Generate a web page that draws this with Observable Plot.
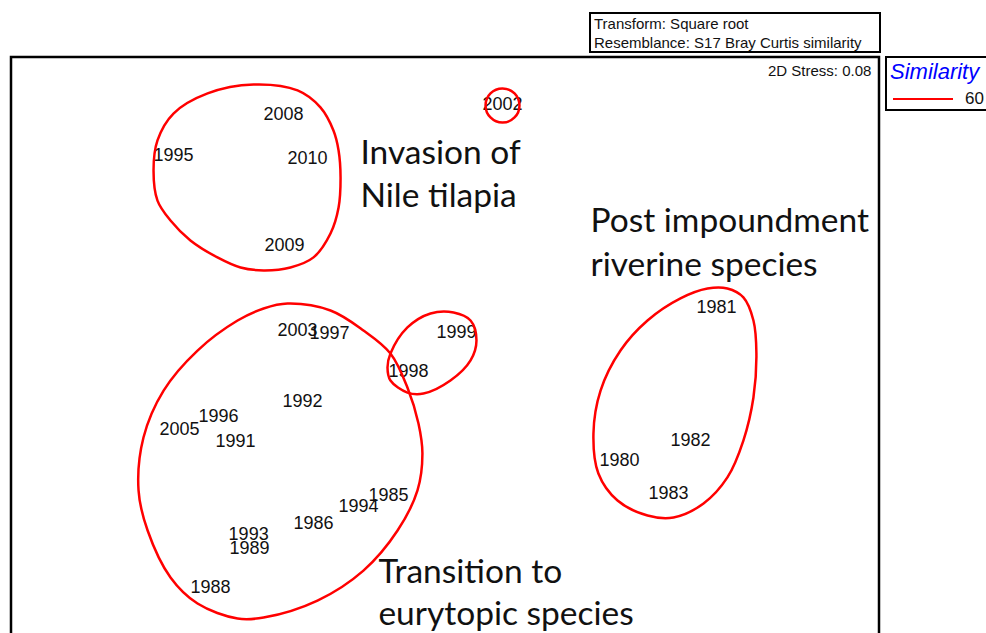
<!DOCTYPE html>
<html><head><meta charset="utf-8">
<script src="https://cdn.jsdelivr.net/npm/d3@7"></script>
<script src="https://cdn.jsdelivr.net/npm/@observablehq/plot@0.6"></script>
<style>
html,body{margin:0;padding:0;background:#fff;overflow:hidden}
#wrap{position:relative;width:986px;height:633px;overflow:hidden}
#info{position:absolute;box-sizing:border-box;left:589px;top:12px;width:292px;height:41px;border:2.5px solid #000;font:15px "Liberation Sans",Arial,sans-serif;line-height:19px;padding-left:3px;color:#111}
#legend{position:absolute;box-sizing:border-box;left:885px;top:56px;width:140px;height:55px;border:2px solid #000;font-family:"Liberation Sans",Arial,sans-serif}
#legend .title{position:absolute;left:3px;top:1px;font-size:22px;font-style:italic;color:#0000ff}
#legend .row{position:absolute;left:6px;top:31px;display:flex;align-items:center;font-size:17px;color:#111}
#legend .sw{width:60px;height:0;border-top:2.5px solid #ff0000;margin-right:12px}
</style></head>
<body>
<div id="wrap"></div>
<script>
// MDS ordination (2D) – sample years and coordinates
const years = ["2008","1995","2010","2009","2002","2003","1997","1999","1998","1992","1996","2005","1991","1985","1994","1986","1993","1989","1988","1981","1982","1980","1983"];
const mdsX = [-0.821,-1.379,-0.699,-0.816,0.289,-0.750,-0.588,0.056,-0.188,-0.725,-1.151,-1.348,-1.064,-0.289,-0.441,-0.669,-0.998,-0.993,-1.191,1.374,1.242,0.882,1.130];
const mdsY = [1.211,1.004,0.988,0.547,1.262,0.117,0.101,0.106,-0.091,-0.243,-0.319,-0.385,-0.446,-0.720,-0.775,-0.862,-0.917,-0.988,-1.186,0.233,-0.441,-0.542,-0.710];

// Similarity (60%) contours, outline points
const contourTilapia = [[-0.973,1.363],[-0.750,1.333],[-0.634,1.247],[-0.568,1.130],[-0.542,1.029],[-0.532,0.892],[-0.542,0.740],[-0.583,0.608],[-0.669,0.487],[-0.786,0.436],[-0.922,0.421],[-1.039,0.436],[-1.156,0.487],[-1.293,0.573],[-1.394,0.674],[-1.460,0.775],[-1.480,0.928],[-1.460,1.080],[-1.379,1.216],[-1.206,1.318]];
const contour2002 = [[0.289,1.343],[0.350,1.318],[0.375,1.257],[0.350,1.196],[0.289,1.170],[0.228,1.196],[0.203,1.257],[0.228,1.318]];
const contourTransition = [[-0.801,0.253],[-0.583,0.218],[-0.416,0.117],[-0.279,0.000],[-0.193,-0.172],[-0.137,-0.355],[-0.117,-0.507],[-0.142,-0.694],[-0.243,-0.897],[-0.416,-1.100],[-0.649,-1.252],[-0.922,-1.338],[-1.054,-1.343],[-1.257,-1.267],[-1.394,-1.135],[-1.510,-0.897],[-1.556,-0.694],[-1.531,-0.426],[-1.429,-0.188],[-1.257,0.015],[-1.054,0.167],[-0.922,0.228]];
const contour9899 = [[-0.279,0.000],[-0.193,0.132],[-0.076,0.203],[0.041,0.208],[0.127,0.167],[0.157,0.066],[0.127,-0.035],[0.025,-0.137],[-0.112,-0.203],[-0.193,-0.198],[-0.279,-0.137],[-0.294,-0.071]];
const contourRiverine = [[1.429,0.329],[1.510,0.284],[1.561,0.167],[1.576,0.000],[1.561,-0.223],[1.510,-0.441],[1.429,-0.628],[1.308,-0.760],[1.156,-0.831],[1.024,-0.821],[0.872,-0.745],[0.775,-0.608],[0.750,-0.405],[0.786,-0.188],[0.887,0.015],[1.024,0.167],[1.191,0.279],[1.328,0.329]];

// Annotations
const noteText = ["Invasion of","Nile tilapia","Post impoundment","riverine species","Transition to","eurytopic species"];
const noteX = [-0.431,-0.431,0.735,0.735,-0.340,-0.340];
const noteY = [1.014,0.796,0.669,0.446,-1.110,-1.323];

const stressText = ["2D Stress: 0.08"];
const infoLines = ["Transform: Square root","Resemblance: S17 Bray Curtis similarity"];
const similarityLevels = [60];

const xDomain = [-2.2, 2.2];
const yDomain = [-1.5, 1.5];

const labels = years.map((t,i)=>({t, x: mdsX[i], y: mdsY[i]}));
const contours = [["a",contourTilapia],["b",contour2002],["c",contourTransition],["d",contour9899],["e",contourRiverine]]
  .flatMap(([g,pts])=>pts.map(([x,y])=>({g,x,y})));
const notes = noteText.map((t,i)=>({t, x: noteX[i], y: noteY[i]}));
const stress = stressText.map(t=>({t, x: 2.159, y: 1.429}));

const plot = Plot.plot({
  width: 986, height: 633, margin: 0,
  x: {domain: xDomain, range: [11, 879], axis: null},
  y: {domain: yDomain, range: [649, 57], axis: null},
  style: {background: "transparent"},
  marks: [
    Plot.rect([{x1: xDomain[0], x2: xDomain[1], y1: -1.62, y2: yDomain[1]}], {x1:"x1", x2:"x2", y1:"y1", y2:"y2", fill:"none", stroke:"#000", strokeWidth:2.5}),
    Plot.text(labels, {x:"x", y:"y", text:"t", fontSize:18, fontFamily:"Liberation Sans, Arial, sans-serif", fill:"#111"}),
    Plot.text(notes, {x:"x", y:"y", text:"t", textAnchor:"start", fontSize:33.5, fontFamily:"Lato, sans-serif", fill:"#111"}),
    Plot.text(stress, {x:"x", y:"y", text:"t", textAnchor:"end", fontSize:15, fontFamily:"Liberation Sans, Arial, sans-serif", fill:"#111"}),
    Plot.line(contours, {x:"x", y:"y", z:"g", curve:"catmull-rom-closed", stroke:"#ff0000", strokeWidth:2.5})
  ]
});
const wrap = document.getElementById("wrap");
wrap.appendChild(plot);

const info = document.createElement("div");
info.id = "info";
info.innerHTML = infoLines.map(s=>`<div>${s}</div>`).join("");
wrap.appendChild(info);

const legend = document.createElement("div");
legend.id = "legend";
legend.innerHTML = `<div class="title">Similarity</div>` + similarityLevels.map(v=>`<div class="row"><div class="sw"></div><span>${v}</span></div>`).join("");
wrap.appendChild(legend);
</script>
</body></html>
